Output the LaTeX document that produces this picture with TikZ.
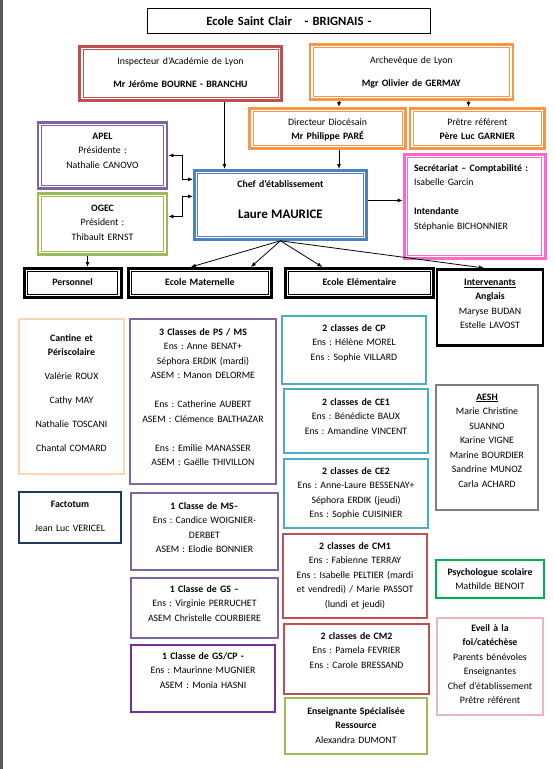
\documentclass[tikz,border=0pt]{standalone}
\usepackage{fontspec}
\setmainfont{Carlito}
\usetikzlibrary{arrows.meta}
\frenchspacing

\definecolor{rouge}{HTML}{C0504D}
\definecolor{orange1}{HTML}{F79646}
\definecolor{violet1}{HTML}{8064A2}
\definecolor{violet2}{HTML}{7030A0}
\definecolor{vert1}{HTML}{9BBB59}
\definecolor{vert2}{HTML}{00B050}
\definecolor{bleu1}{HTML}{4F81BD}
\definecolor{rose1}{HTML}{FF66CC}
\definecolor{rose2}{HTML}{E6B9B8}
\definecolor{turquoise}{HTML}{4BACC6}
\definecolor{peche}{HTML}{FBD4B4}
\definecolor{marine}{HTML}{1F3864}
\definecolor{gris}{HTML}{7F7F7F}

\tikzset{
  txt/.style={font=\fontsize{9.8}{14.5}\selectfont, align=center, inner sep=0pt, anchor=north, text height=15pt},
  dbl/.style={txt, draw=#1, line width=2.8pt,
    path picture={\draw[#1, line width=0.8pt] ([xshift=3.4pt,yshift=-3.4pt]path picture bounding box.north west) rectangle ([xshift=-3.4pt,yshift=3.4pt]path picture bounding box.south east);}},
  sgl/.style={txt, draw=#1, line width=2pt}
}

\begin{document}
\begin{tikzpicture}[x=1pt, y=-1pt, line width=0.8pt, >={Latex[length=5pt,width=4pt]}]
    \useasboundingbox (0,0) rectangle (554,769);
    \fill[black!65] (0,0) rectangle (2.5,769);

    % direction
    \node[txt, draw, line width=0.9pt, text width=283pt, text height=17pt, text depth=7.5pt, font=\fontsize{12.6}{14}\selectfont\bfseries] (titre) at (288.9,8) {Ecole Saint Clair\ \ \ - BRIGNAIS -};
    \node[dbl=rouge, text width=202pt, text height=18pt, text depth=36pt] (insp) at (180.5,45) {Inspecteur d'Académie de Lyon\\[8.5pt]\textbf{Mr Jérôme BOURNE - BRANCHU}};
    \node[dbl=orange1, text width=203pt, text height=19pt, text depth=36pt] (arch) at (411.4,43) {Archevêque de Lyon\\[9pt]\textbf{Mgr Olivier de GERMAY}};
    \node[dbl=orange1, text width=156pt, text height=17pt, text depth=23pt] (dir) at (327.6,107) {Directeur Diocésain\\\textbf{Mr Philippe PARÉ}};
    \node[dbl=orange1, text width=134.5pt, text height=17pt, text depth=23pt] (pretre) at (477.3,107) {Prêtre référent\\\textbf{Père Luc GARNIER}};
    \node[dbl=violet1, text width=129pt, text height=17pt, text depth=49pt] (apel) at (102.5,121) {\textbf{APEL}\\Présidente :\\Nathalie CANOVO};
    \node[dbl=vert1, text width=129pt, text height=18pt, text depth=43pt] (ogec) at (102.5,192) {\textbf{OGEC}\\Président :\\Thibault ERNST};
    \node[dbl=bleu1, text width=172pt, text height=17pt, text depth=52pt] (chef) at (280.4,169) {\textbf{Chef d’établissement}\\[17pt]{\fontsize{13}{15}\selectfont\bfseries Laure MAURICE}};
    \node[dbl=rose1, align=left, inner xsep=10pt, text width=121pt, text height=17pt, text depth=87pt] (secr) at (474.6,153) {\textbf{Secrétariat – Comptabilité :}\\Isabelle Garcin\\[14.5pt]\textbf{Intendante}\\Stéphanie BICHONNIER};

    % poles
    \node[dbl=black, text width=97pt, text height=17.5pt, text depth=11.5pt] (pers) at (72.6,267) {\textbf{Personnel}};
    \node[dbl=black, text width=143pt, text height=17.5pt, text depth=11.5pt] (mat) at (199.9,267) {\textbf{Ecole Maternelle}};
    \node[dbl=black, text width=148pt, text height=17.5pt, text depth=11.5pt] (elem) at (359.4,267) {\textbf{Ecole Elémentaire}};
    \node[sgl=black, line width=2.6pt, text width=106pt, text height=16pt, text depth=60pt] (interv) at (490,268) {\underline{\textbf{Intervenants}}\\\textbf{Anglais}\\Maryse BUDAN\\Estelle LAVOST};

    % personnel
    \node[sgl=peche, text width=105pt, text height=22pt, text depth=133pt] (cantine) at (71.5,318) {\textbf{Cantine et}\\\textbf{Périscolaire}\\[9.5pt]Valérie ROUX\\[9.5pt]Cathy MAY\\[9.5pt]Nathalie TOSCANI\\[9.5pt]Chantal COMARD};
    \node[sgl=marine, text width=102pt, text height=15pt, text depth=36pt] (facto) at (70,491) {\textbf{Factotum}\\[9.5pt]Jean Luc VERICEL};

    % maternelle
    \node[sgl=violet1, text width=146pt, text height=16pt, text depth=149pt] (psms) at (203,318) {\textbf{3 Classes de PS / MS}\\Ens : Anne BENAT+\\Séphora ERDIK (mardi)\\ASEM : Manon DELORME\\[14.5pt]Ens : Catherine AUBERT\\ASEM : Clémence BALTHAZAR\\[14.5pt]Ens : Emilie MANASSER\\ASEM : Gaëlle THIVILLON};
    \node[sgl=violet1, text width=147pt, text height=16pt, text depth=61pt] (ms) at (204.5,492) {\textbf{1 Classe de MS–}\\Ens : Candice WOIGNIER-\\DERBET\\ASEM : Elodie BONNIER};
    \node[sgl=violet1, text width=147pt, text height=14pt, text depth=46pt] (gs) at (204.5,577) {\textbf{1 Classe de GS –}\\Ens : Virginie PERRUCHET\\ASEM Christelle COURBIERE};
    \node[sgl=violet2, text width=144pt, text height=14pt, text depth=53pt] (gscp) at (203,644) {\textbf{1 Classe de GS/CP -}\\Ens : Maurinne MUGNIER\\ASEM : Monia HASNI};

    % elementaire
    \node[sgl=turquoise, text width=144pt, text height=15pt, text depth=53pt] (cp) at (354,315) {\textbf{2 classes de CP}\\Ens : Hélène MOREL\\Ens : Sophie VILLARD};
    \node[sgl=turquoise, text width=144pt, text height=16pt, text depth=48pt] (ce1) at (356,388) {\textbf{2 classes de CE1}\\Ens : Bénédicte BAUX\\Ens : Amandine VINCENT};
    \node[sgl=turquoise, text width=144pt, text height=15pt, text depth=54pt] (ce2) at (356,458) {\textbf{2 classes de CE2}\\Ens : Anne-Laure BESSENAY+\\Séphora ERDIK (jeudi)\\Ens : Sophie CUISINIER};
    \node[sgl=rouge, text width=144pt, text height=15pt, text depth=69pt] (cm1) at (355,533) {\textbf{2 classes de CM1}\\Ens : Fabienne TERRAY\\Ens : Isabelle PELTIER (mardi\\et vendredi) / Marie PASSOT\\(lundi et jeudi)};
    \node[sgl=rouge, text width=145pt, text height=15pt, text depth=55pt] (cm2) at (356.5,623) {\textbf{2 classes de CM2}\\Ens : Pamela FEVRIER\\Ens : Carole BRESSAND};
    \node[sgl=vert1, text width=142pt, text height=16pt, text depth=40pt] (spe) at (356,697) {\textbf{Enseignante Spécialisée}\\\textbf{Ressource}\\Alexandra DUMONT};

    % intervenants
    \node[sgl=gris, text width=102pt, text height=15pt, text depth=110pt] (aesh) at (487,384) {\underline{\textbf{AESH}}\\Marie Christine\\SUANNO\\Karine VIGNE\\Marine BOURDIER\\Sandrine MUNOZ\\Carla ACHARD};
    \node[sgl=vert2, text width=108pt, text height=15pt, text depth=23pt] (psy) at (490,559) {\textbf{Psychologue scolaire}\\Mathilde BENOIT};
    \node[sgl=rose2, text width=106pt, text height=13pt, text depth=84pt] (eveil) at (490,617) {\textbf{Eveil à la}\\\textbf{foi/catéchèse}\\Parents bénévoles\\Enseignantes\\Chef d'établissement\\Prêtre référent};

    % liens
    \draw[->] ([xshift=44pt]insp.south) -- ([xshift=44pt]insp.south |- chef.north);
    \draw[->] ([xshift=11.4pt]dir.north |- arch.south) -- ([xshift=11.4pt]dir.north);
    \draw[->] ([xshift=-8.8pt]pretre.north |- arch.south) -- ([xshift=-8.8pt]pretre.north);
    \draw[->] ([xshift=11.4pt]dir.south) -- ([xshift=11.4pt]dir.south |- chef.north);
    \draw[<->] (apel.east) -- ++(14,0) |- ([yshift=25.5pt]chef.west);
    \draw[<->] ([yshift=7.5pt]ogec.east) -- ++(14,0) |- ([yshift=8.5pt]chef.west);
    \draw[->] ([yshift=4.5pt]chef.east) -- ([yshift=4.5pt]chef.east -| secr.west);
    \draw[->] ([xshift=-15pt]ogec.south) -- ([xshift=-15pt]ogec.south |- pers.north);
    \draw[->] (chef.south) -- ([xshift=-9pt]mat.north);
    \draw[->] (chef.south) -- ([xshift=51pt]mat.north);
    \draw[->] (chef.south) -- ([xshift=-37pt]elem.north);
    \draw[->] (chef.south) -- ([xshift=-6pt]interv.north);
\end{tikzpicture}
\end{document}
